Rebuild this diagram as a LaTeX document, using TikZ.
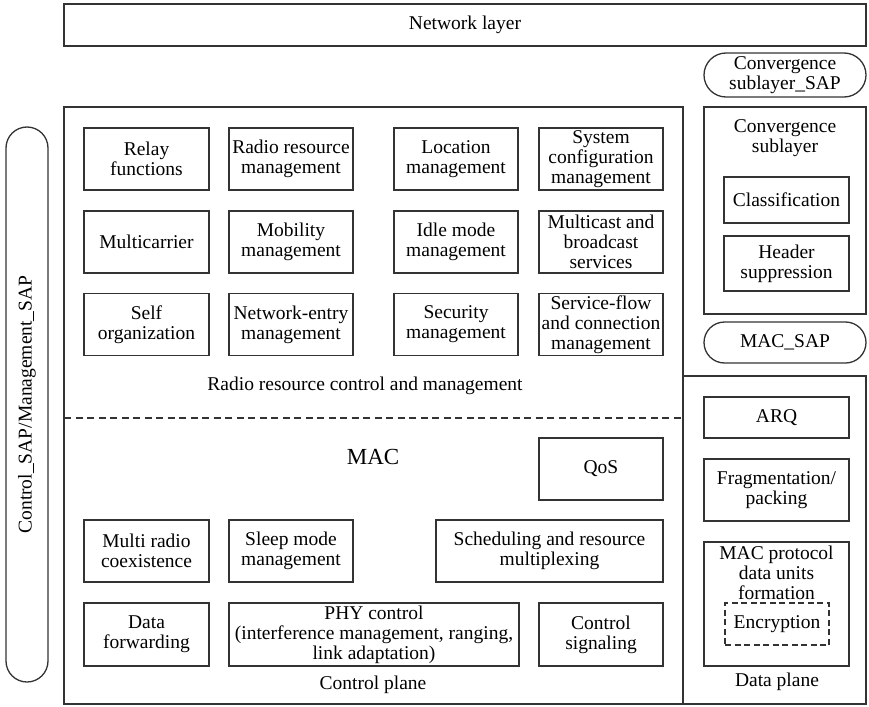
\documentclass[tikz,border=0pt]{standalone}
\usepackage{fontspec}
\setmainfont{Liberation Serif}
\usetikzlibrary{shapes.misc}
\begin{document}
\begin{tikzpicture}[x=1pt,y=-1pt,
  txt/.style={font=\fontsize{19.5}{20}\selectfont, align=center, inner sep=0pt},
  blk/.style={txt, draw=black!80, line width=1.3pt, rectangle},
  pill/.style={txt, draw=black!80, line width=1.3pt, rounded rectangle},
  encl/.style={draw=black!80, line width=1.3pt, rectangle, inner sep=0pt},
  dashbox/.style={blk, dashed, dash pattern=on 6pt off 3.5pt}
]
\useasboundingbox (0,0) rectangle (869,706);

% Top layer and service access points
\node[blk, minimum width=802pt, minimum height=42pt] (net) at (465,25) {Network layer};
\node[pill, minimum width=162pt, minimum height=44pt] (csap) at (785,75) {Convergence\\sublayer\_SAP};
\node[pill, rotate=90, minimum width=555pt, minimum height=42pt] (ctlsap) at (27,404.5) {Control\_SAP/Management\_SAP};

% Control plane enclosure
\node[encl, minimum width=619pt, minimum height=597pt] (ctrl) at (373.5,405.5) {};
\coordinate (dl) at (64,418);
\coordinate (dr) at (683,418);
\draw[black!80, line width=1.3pt, dashed, dash pattern=on 7pt off 4.5pt] (dl) -- (dr);

% Radio resource control and management functions
\node[blk, minimum width=125pt, minimum height=62pt] (relay) at (146.5,159) {Relay\\functions};
\node[blk, minimum width=124pt, minimum height=62pt] (rrm) at (291,159) {Radio resource\\management};
\node[blk, minimum width=124pt, minimum height=62pt] (loc) at (456,159) {Location\\management};
\node[blk, minimum width=124pt, minimum height=62pt] (sys) at (601,159) {System\\configuration\\management};

\node[blk, minimum width=125pt, minimum height=62pt] (mc) at (146.5,242) {Multicarrier};
\node[blk, minimum width=124pt, minimum height=62pt] (mob) at (291,242) {Mobility\\management};
\node[blk, minimum width=124pt, minimum height=62pt] (idle) at (456,242) {Idle mode\\management};
\node[blk, minimum width=124pt, minimum height=62pt] (mbs) at (601,242) {Multicast and\\broadcast\\services};

\node[blk, minimum width=125pt, minimum height=62pt] (self) at (146.5,324.5) {Self\\organization};
\node[blk, minimum width=124pt, minimum height=62pt] (nem) at (291,324.5) {Network-entry\\management};
\node[blk, minimum width=124pt, minimum height=62pt] (sec) at (456,324.5) {Security\\management};
\node[blk, minimum width=124pt, minimum height=62pt] (sfc) at (601,324.5) {Service-flow\\and connection\\management};

\node[txt] (rrcm) at (365,386) {Radio resource control and management};

% MAC functions
\node[txt, font=\fontsize{23}{24}\selectfont] (mac) at (373,457) {MAC};
\node[blk, minimum width=124pt, minimum height=62pt] (qos) at (601,469) {QoS};

\node[blk, minimum width=125pt, minimum height=62pt] (mrc) at (146.5,551) {Multi radio\\coexistence};
\node[blk, minimum width=124pt, minimum height=62pt] (slp) at (291,551) {Sleep mode\\management};
\node[blk, minimum width=227pt, minimum height=62pt] (sch) at (549.5,551) {Scheduling and resource\\multiplexing};

\node[blk, minimum width=125pt, minimum height=63pt] (dfw) at (146.5,634.5) {Data\\forwarding};
\node[blk, minimum width=290pt, minimum height=63pt] (phy) at (374,634.5) {PHY control\\(interference management, ranging,\\link adaptation)};
\node[blk, minimum width=124pt, minimum height=63pt] (csig) at (601,634.5) {Control\\signaling};

\node[txt] (cplane) at (373,685) {Control plane};

% Convergence sublayer
\node[encl, minimum width=162pt, minimum height=207pt] (conv) at (785,210.5) {};
\node[txt] (convt) at (785,138) {Convergence\\sublayer};
\node[blk, minimum width=125pt, minimum height=46pt] (cls) at (786.5,200) {Classification};
\node[blk, minimum width=125pt, minimum height=55pt] (hdr) at (786.5,263.5) {Header\\suppression};
\node[pill, minimum width=162pt, minimum height=41pt] (macsap) at (785,342.5) {MAC\_SAP};

% Data plane
\node[encl, minimum width=183pt, minimum height=328pt] (dplane) at (774.5,540) {};
\node[blk, minimum width=145pt, minimum height=41pt] (arq) at (776.5,417.5) {ARQ};
\node[blk, minimum width=145pt, minimum height=62pt] (frag) at (776.5,490) {Fragmentation/\\packing};
\node[blk, minimum width=145pt, minimum height=124pt] (pdu) at (776.5,604) {};
\node[txt] (pdut) at (776.5,573) {MAC protocol\\data units\\formation};
\node[dashbox, minimum width=104pt, minimum height=42pt] (enc) at (777,624) {Encryption};
\node[txt] (dpt) at (777,682) {Data plane};
\end{tikzpicture}
\end{document}
